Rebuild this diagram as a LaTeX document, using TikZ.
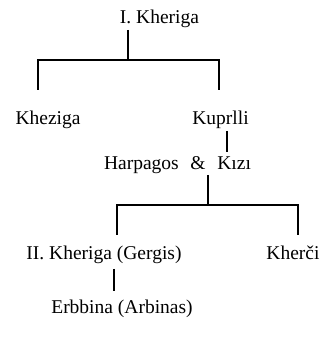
\documentclass[tikz,border=0pt]{standalone}
\usepackage{fontspec}
\setmainfont{Liberation Serif}
\begin{document}
\begin{tikzpicture}[x=1pt,y=1pt,
  person/.style={inner sep=0pt,anchor=base,font=\fontsize{19.5}{22}\selectfont},
  link/.style={line width=1.2pt,line cap=butt}]
\useasboundingbox (0,0) rectangle (324,345);

% people
\node[person] (kheriga1) at (159.5,321) {I. Kheriga};
\node[person] (kheziga)  at (48,220)    {Kheziga};
\node[person] (kuprlli)  at (220.5,220) {Kuprlli};
\node[person] (harpagos) at (177.5,175) {Harpagos\hspace{0.6em}\&\hspace{0.6em}Kızı};
\node[person] (kheriga2) at (104,85)    {II. Kheriga (Gergis)};
\node[person] (kherci)   at (293,85)    {Kherči};
\node[person] (erbbina)  at (122,31)    {Erbbina (Arbinas)};

% line ends
\coordinate (k1d)  at (128,315);
\coordinate (k1j)  at (128,285);
\coordinate (kzl)  at (38,255);
\coordinate (kpr)  at (219,255);
\coordinate (kpd)  at (227,214);
\coordinate (hpu)  at (227,193);
\coordinate (hpd)  at (208,170);
\coordinate (hpj)  at (208,140);
\coordinate (k2u)  at (117,110);
\coordinate (kcu)  at (298,110);
\coordinate (k2d)  at (114,76);
\coordinate (ebu)  at (114,54);

% I. Kheriga -> Kheziga, Kuprlli
\draw[link] (k1d) -- (k1j);
\draw[link] (kzl) -- (kzl|-k1j) -- (kpr|-k1j) -- (kpr);
% Kuprlli -> Harpagos & Kizi
\draw[link] (kpd) -- (hpu);
% Harpagos & Kizi -> II. Kheriga, Kherci
\draw[link] (hpd) -- (hpj);
\draw[link] (k2u) -- (k2u|-hpj) -- (kcu|-hpj) -- (kcu);
% II. Kheriga -> Erbbina
\draw[link] (k2d) -- (ebu);
\end{tikzpicture}
\end{document}
